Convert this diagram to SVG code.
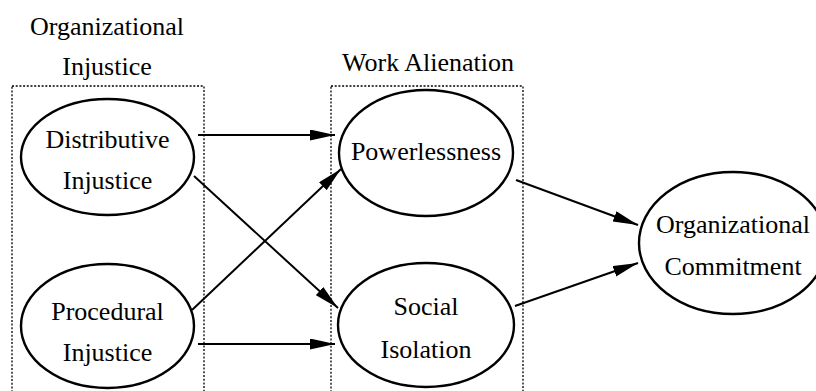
<svg xmlns="http://www.w3.org/2000/svg" width="816" height="391" viewBox="0 0 816 391">
<defs>
<style>
text{font-family:"Liberation Serif","Times New Roman",serif;font-size:26px;fill:#000;text-anchor:middle}
.box{fill:none;stroke:#000;stroke-width:1.3;stroke-dasharray:2,1.7}
.node ellipse{fill:#fff;stroke:#000;stroke-width:2.4}
.edge{stroke:#000;stroke-width:2;fill:none;marker-end:url(#ah)}
</style>
<marker id="ah" markerUnits="userSpaceOnUse" markerWidth="26" markerHeight="12" refX="25" refY="5.5" orient="auto">
<path d="M0,0 L25,5.5 L0,11 Z" fill="#000"/>
</marker>
</defs>
<rect width="816" height="391" fill="#fff"/>
<g id="groups">
<rect class="box" x="12" y="86" width="192" height="320"/>
<rect class="box" x="331" y="86" width="192" height="320"/>
<text x="107" y="35">Organizational</text>
<text x="107" y="75">Injustice</text>
<text x="428" y="71">Work Alienation</text>
</g>
<g id="connectors">
<line class="edge" x1="198" y1="135" x2="335" y2="135"/>
<line class="edge" x1="194" y1="176" x2="338" y2="308"/>
<line class="edge" x1="192" y1="310" x2="341" y2="169"/>
<line class="edge" x1="198" y1="344" x2="335" y2="344"/>
<line class="edge" x1="516" y1="180" x2="638" y2="225"/>
<line class="edge" x1="515" y1="306" x2="638" y2="263"/>
</g>
<g id="distributive" class="node">
<ellipse cx="107.5" cy="157" rx="86.5" ry="58"/>
<text x="107.5" y="148">Distributive</text>
<text x="107.5" y="189">Injustice</text>
</g>
<g id="procedural" class="node">
<ellipse cx="107.5" cy="326" rx="86.5" ry="62"/>
<text x="107.5" y="320">Procedural</text>
<text x="107.5" y="361">Injustice</text>
</g>
<g id="powerlessness" class="node">
<ellipse cx="426" cy="153" rx="87" ry="63"/>
<text x="426" y="160">Powerlessness</text>
</g>
<g id="social-isolation" class="node">
<ellipse cx="426" cy="325" rx="88" ry="62"/>
<text x="426" y="315">Social</text>
<text x="426" y="358">Isolation</text>
</g>
<g id="commitment" class="node">
<ellipse cx="733" cy="243" rx="94" ry="71"/>
<text x="733" y="233">Organizational</text>
<text x="733" y="275">Commitment</text>
</g>
</svg>
